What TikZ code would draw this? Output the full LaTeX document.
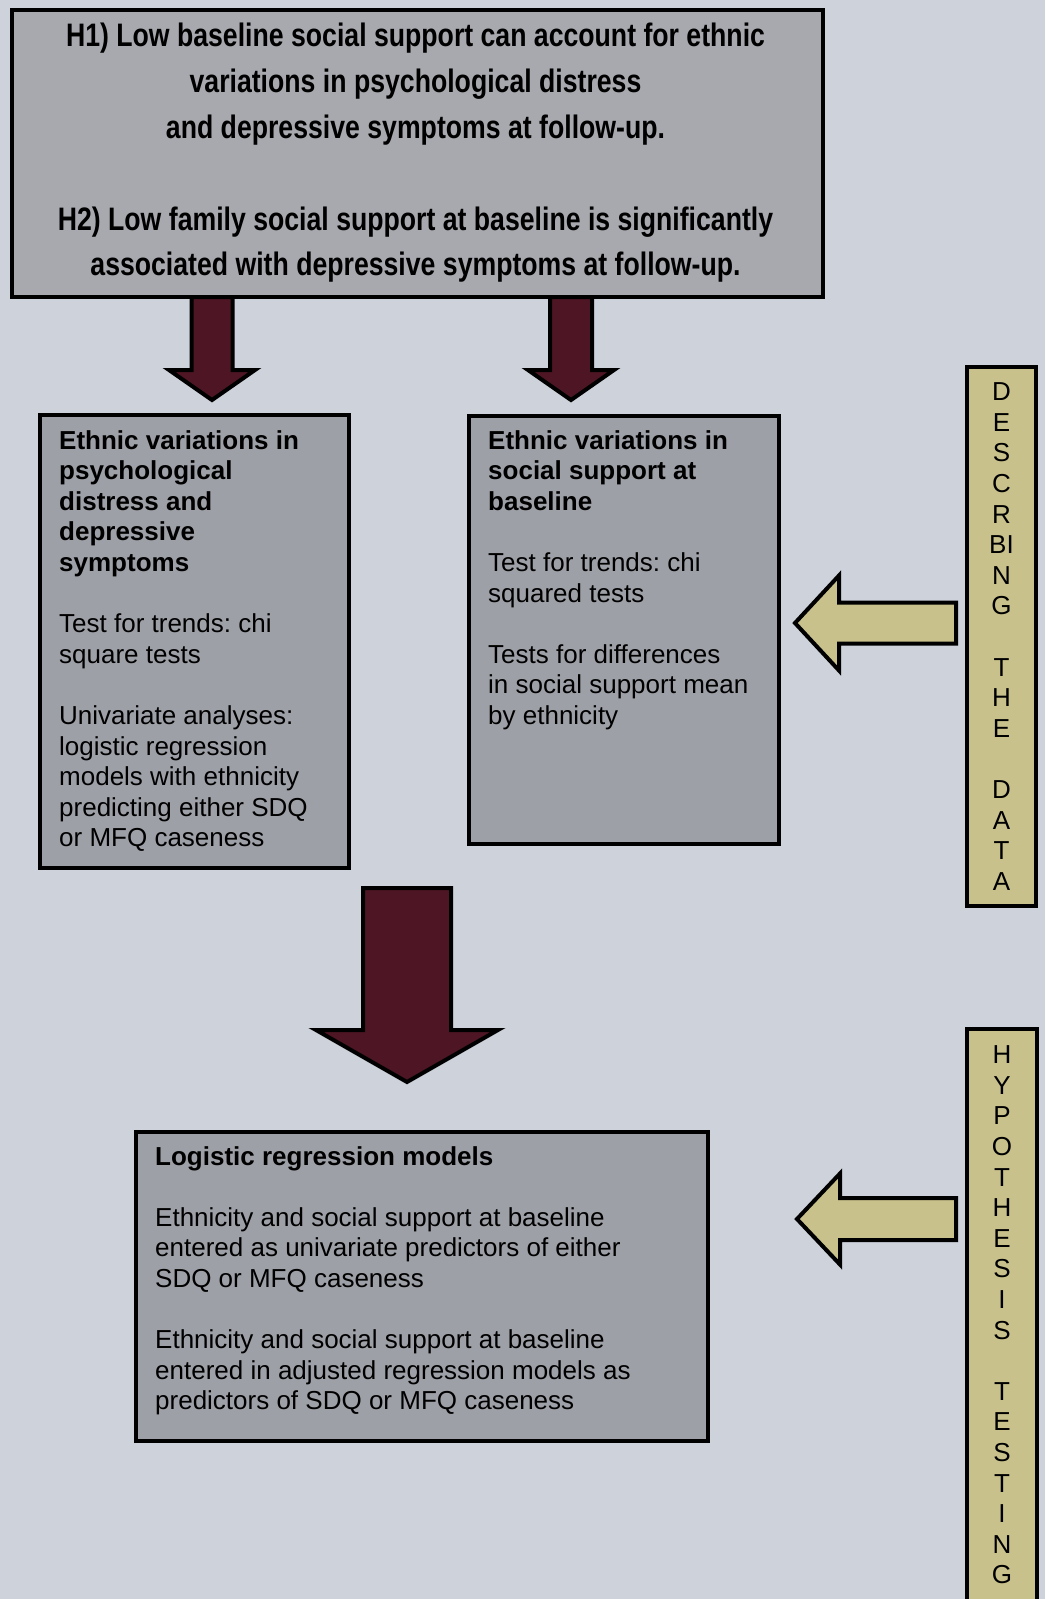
\documentclass[tikz,border=0pt]{standalone}
\usepackage{fontspec}
\setmainfont{Liberation Sans}
\newfontfamily\hypfont[FakeStretch=0.82]{Liberation Sans}
\usetikzlibrary{calc, positioning}
\definecolor{pagebg}{RGB}{205,210,219}
\definecolor{boxgray}{RGB}{158,160,167}
\definecolor{hypgray}{RGB}{168,169,174}
\definecolor{darkmaroon}{RGB}{78,22,36}
\definecolor{khaki}{RGB}{200,193,139}
\frenchspacing

% block arrow pointing down: top, tip, shaft half width, head half width, head length
\newcommand{\fatdown}[5]{%
  \draw[fatarr] let \p1=(#1), \p2=(#2) in
    (\x1-#3,\y1) -- (\x1+#3,\y1) -- (\x1+#3,\y2+#5) -- (\x1+#4,\y2+#5)
    -- (\x1,\y2) -- (\x1-#4,\y2+#5) -- (\x1-#3,\y2+#5) -- cycle;}
% block arrow pointing left: tail, tip, shaft half width, head half width, head length
\newcommand{\fatleft}[5]{%
  \draw[yelarr] let \p1=(#1), \p2=(#2) in
    (\x1,\y1-#3) -- (\x1,\y1+#3) -- (\x2+#5,\y1+#3) -- (\x2+#5,\y1+#4)
    -- (\x2,\y1) -- (\x2+#5,\y1-#4) -- (\x2+#5,\y1-#3) -- cycle;}

\begin{document}
\begin{tikzpicture}[x=1pt, y=-1pt,
    hypbox/.style={draw, line width=4pt, fill=hypgray, anchor=north west, inner sep=0pt},
    stepbox/.style={draw, line width=4pt, fill=boxgray, anchor=north west, inner sep=0pt},
    bodytxt/.style={anchor=north west, align=left, inner sep=0pt, font=\fontsize{26}{30.6}\selectfont},
    hyptxt/.style={align=center, inner sep=0pt, font=\hypfont\bfseries\fontsize{32.5}{45.8}\selectfont},
    sidebar/.style={draw, line width=4pt, fill=khaki, inner sep=0pt, align=center, font=\fontsize{26}{30.6}\selectfont},
    fatarr/.style={draw=black, line width=4pt, fill=darkmaroon, line join=miter},
    yelarr/.style={draw=black, line width=4pt, fill=khaki, line join=miter},
]
\useasboundingbox (0,0) rectangle (1045,1599);
\fill[pagebg] (0,0) rectangle (1045,1599);

% --- Hypotheses (top) ---
\node[hypbox, minimum width=811pt, minimum height=287pt] (hyp) at (10,8) {};
\node[hyptxt] (hyptext) at (415.5,153) {H1) Low baseline social support can account for ethnic\\
  variations in psychological distress\\
  and depressive symptoms at follow-up.\\[45.8pt]
  H2) Low family social support at baseline is significantly\\
  associated with depressive symptoms at follow-up.};

% --- Descriptive steps ---
\node[stepbox, minimum width=309pt, minimum height=453pt] (dist) at (38,413) {};
\node[bodytxt] (disttext) at (59,430) {\textbf{Ethnic variations in}\\ \textbf{psychological}\\
  \textbf{distress and}\\ \textbf{depressive}\\ \textbf{symptoms}\\[30.6pt]
  Test for trends: chi\\ square tests\\[30.6pt]
  Univariate analyses:\\ logistic regression\\ models with ethnicity\\
  predicting either SDQ\\ or MFQ caseness};

\node[stepbox, minimum width=310pt, minimum height=428pt] (supp) at (467,414) {};
\node[bodytxt] (supptext) at (488,430) {\textbf{Ethnic variations in}\\ \textbf{social support at}\\
  \textbf{baseline}\\[30.6pt]
  Test for trends: chi\\ squared tests\\[30.6pt]
  Tests for differences\\ in social support mean\\ by ethnicity};

% --- Hypothesis testing step ---
\node[stepbox, minimum width=572pt, minimum height=309pt] (logit) at (134,1130) {};
\node[bodytxt] (logittext) at (155,1146) {\textbf{Logistic regression models}\\[30.6pt]
  Ethnicity and social support at baseline\\ entered as univariate predictors of either\\
  SDQ or MFQ caseness\\[30.6pt]
  Ethnicity and social support at baseline\\ entered in adjusted regression models as\\
  predictors of SDQ or MFQ caseness};

% --- Side bars ---
\node[sidebar, minimum width=69pt, minimum height=539pt] (descbar) at (1001.5,636.5)
  {D\\E\\S\\C\\R\\BI\\N\\G\\[30.6pt]T\\H\\E\\[30.6pt]D\\A\\T\\A};
\node[sidebar, minimum width=70pt, minimum height=572pt] (hypbar) at (1002,1315)
  {H\\Y\\P\\O\\T\\H\\E\\S\\I\\S\\[30.6pt]T\\E\\S\\T\\I\\N\\G};

% --- Down arrows ---
\coordinate (atopL) at ($(212,0 |- hyp.south)+(0,-2)$);
\coordinate (atipL) at ($(212,0 |- dist.north)+(0,-13)$);
\coordinate (atopR) at ($(571,0 |- hyp.south)+(0,-2)$);
\coordinate (atipR) at ($(571,0 |- supp.north)+(0,-14)$);
\coordinate (atopB) at (407,888);
\coordinate (atipB) at ($(407,0 |- logit.north)+(0,-48)$);
\fatdown{atopL}{atipL}{20.5pt}{43pt}{30pt}
\fatdown{atopR}{atipR}{21pt}{43pt}{30pt}
\fatdown{atopB}{atipB}{44pt}{91pt}{52pt}

% --- Side arrows ---
\coordinate (dtail) at ($(descbar.west |- 0,623)+(-9,0)$);
\coordinate (dtip) at (795,623);
\coordinate (htail) at ($(hypbar.west |- 0,1219)+(-9,0)$);
\coordinate (htip) at (797,1219);
\fatleft{dtail}{dtip}{20.5pt}{47.5pt}{44pt}
\fatleft{htail}{htip}{21pt}{45.5pt}{43pt}

\end{tikzpicture}
\end{document}
